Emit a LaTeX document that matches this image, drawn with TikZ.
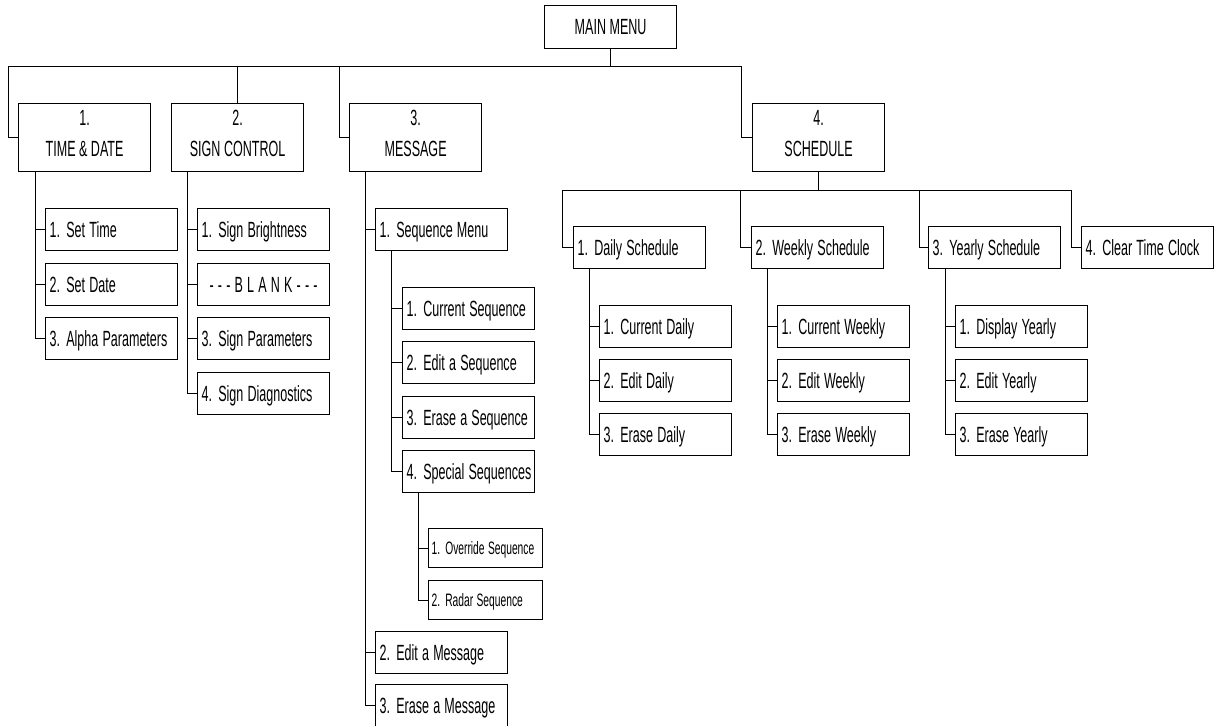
\documentclass[tikz,border=0pt]{standalone}
\usepackage{fontspec}
\usepackage{graphicx}
\setmainfont{Liberation Sans}
\newcommand\nar[1]{\scalebox{0.57}[1]{#1}}
\begin{document}
\begin{tikzpicture}[x=1pt,y=-1pt,line width=1pt,
  box/.style={draw,line width=1.2pt,rectangle,anchor=north west,inner sep=0pt},
  head/.style={box,minimum width=132pt,minimum height=68pt,align=center,font=\fontsize{22}{31}\selectfont},
  item/.style={box,minimum height=42pt,text width=124pt,inner xsep=4pt,text height=16pt,text depth=0pt,align=left,font=\fontsize{22}{24}\selectfont},
  small/.style={item,minimum height=39pt,text width=108pt,inner xsep=3pt,text height=13pt,font=\fontsize{18}{20}\selectfont}]
\useasboundingbox (0,0) rectangle (1214,725);
\node[head,minimum height=43pt] (main) at (544,5) {\nar{MAIN MENU}};
\node[head] (td) at (18,103) {\nar{1.}\\\nar{TIME \& DATE}\strut};
\node[head] (sc) at (171,103) {\nar{2.}\\\nar{SIGN CONTROL}\strut};
\node[head] (msg) at (349,103) {\nar{3.}\\\nar{MESSAGE}\strut};
\node[head] (sch) at (752,103) {\nar{4.}\\\nar{SCHEDULE}\strut};
\coordinate (busL) at (8,66);
\coordinate (busM) at (339,66);
\coordinate (busR) at (741,66);
\draw (main.south) -- (main.south |- busL);
\draw (busL) -- (busR);
\draw (busL) |- (td.west);
\draw (sc.north |- busL) -- (sc.north);
\draw (busM) |- (msg.west);
\draw (busR) |- (sch.west);
\foreach \t/\y [count=\i] in {1. Set Time/208,2. Set Date/263,3. Alpha Parameters/317}{
  \node[item] (td\i) at (45,\y) {\nar{\t}};
  \draw (td.south west) ++(17,0) |- (td\i.west);}
\foreach \t/\y/\a [count=\i] in {1. Sign Brightness/208/left,- - - B L A N K - - -/263/center,3. Sign Parameters/317/left,4. Sign Diagnostics/372/left}{
  \node[item,align=\a] (sc\i) at (197,\y) {\nar{\t}};
  \draw (sc.south west) ++(16,0) |- (sc\i.west);}
\foreach \t/\y [count=\i] in {1. Sequence Menu/208,2. Edit a Message/631,3. Erase a Message/684}{
  \node[item] (msg\i) at (375,\y) {\nar{\t}};
  \draw (msg.south west) ++(16,0) |- (msg\i.west);}
\foreach \t/\y [count=\i] in {1. Current Sequence/287,2. Edit a Sequence/341,3. Erase a Sequence/396,4. Special Sequences/450}{
  \node[item] (seq\i) at (402,\y) {\nar{\t}};
  \draw (msg1.south west) ++(16,0) |- (seq\i.west);}
\foreach \t/\y [count=\i] in {1. Override Sequence/528,2. Radar Sequence/580}{
  \node[small] (spc\i) at (428,\y) {\nar{\t}};
  \draw (seq4.south west) ++(16,0) |- (spc\i.west);}
\foreach \t/\x/\bx [count=\i] in {1. Daily Schedule/573/562,2. Weekly Schedule/751/740,3. Yearly Schedule/928/919,4. Clear Time Clock/1081/1071}{
  \node[item] (sch\i) at (\x,226) {\nar{\t}};
  \coordinate (sb\i) at (\bx,190);
  \draw (sb\i) |- (sch\i.west);}
\draw (sch.south) -- (sch.south |- sb1);
\draw (sb1) -- (sb4);
\foreach \t/\y [count=\i] in {1. Current Daily/305,2. Edit Daily/359,3. Erase Daily/413}{
  \node[item] (dy\i) at (599,\y) {\nar{\t}};
  \draw (sch1.south west) ++(16,0) |- (dy\i.west);}
\foreach \t/\y [count=\i] in {1. Current Weekly/305,2. Edit Weekly/359,3. Erase Weekly/413}{
  \node[item] (wk\i) at (777,\y) {\nar{\t}};
  \draw (sch2.south west) ++(16,0) |- (wk\i.west);}
\foreach \t/\y [count=\i] in {1. Display Yearly/305,2. Edit Yearly/359,3. Erase Yearly/413}{
  \node[item] (yr\i) at (955,\y) {\nar{\t}};
  \draw (sch3.south west) ++(17,0) |- (yr\i.west);}
\end{tikzpicture}
\end{document}
